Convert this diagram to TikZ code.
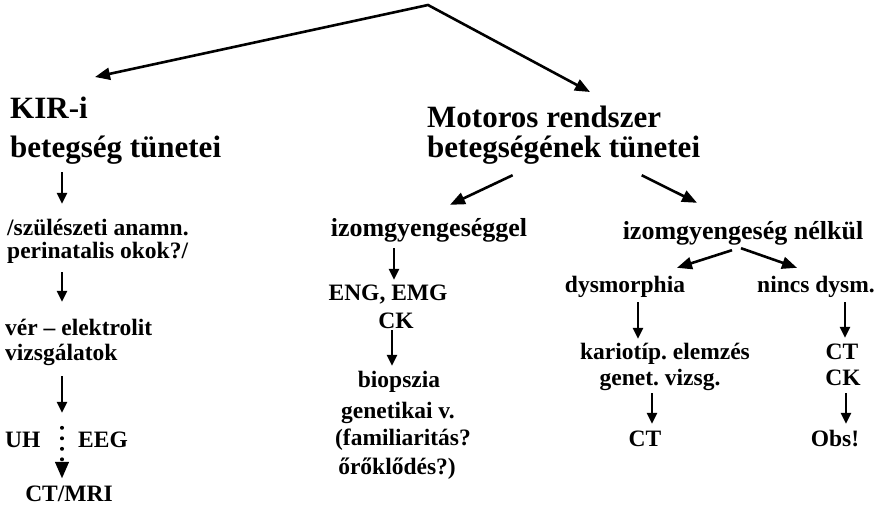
\documentclass[tikz,border=0pt]{standalone}
\usepackage{fontspec}
\setmainfont{Liberation Serif}
\usetikzlibrary{arrows.meta}
\frenchspacing

\tikzset{
  big/.style={font=\fontsize{31}{37}\selectfont\bfseries, inner sep=0pt,
    text height=22pt, text depth=7pt},
  mid/.style={font=\fontsize{26}{31}\selectfont\bfseries, inner sep=0pt,
    text height=19pt, text depth=6pt},
  small/.style={font=\fontsize{23.5}{28}\selectfont\bfseries, inner sep=0pt,
    text height=17pt, text depth=5pt},
  longarr/.style={line width=2.6pt, line join=miter},
  downarr/.style={line width=2.4pt, -{Triangle[length=11pt,width=10pt]}},
  dotarr/.style={line width=4pt, line cap=round, dash pattern=on 0pt off 10.5pt,
    -{Triangle[length=17pt,width=13pt]}},
}

\begin{document}
\begin{tikzpicture}[x=1pt, y=-1pt]
  \useasboundingbox (0,0) rectangle (878,512);

  % left branch
  \node[big, anchor=base west] (kir1) at (10,118) {KIR-i};
  \node[big, anchor=base west] (kir2) at (10,157) {betegség tünetei};
  \node[small, anchor=base west] (szul1) at (7,235) {/szülészeti anamn.};
  \node[small, anchor=base west] (szul2) at (7,258) {perinatalis okok?/};
  \node[small, anchor=base west] (ver1) at (5,335) {vér -- elektrolit};
  \node[small, anchor=base west] (ver2) at (5,360) {vizsgálatok};
  \node[small, anchor=base west] (uh) at (5,447) {UH};
  \node[small, anchor=base west] (eeg) at (78,447) {EEG};
  \node[small, anchor=base] (ctmri) at (69,501) {CT/MRI};
  \coordinate (lx) at (62,0);

  % right branch
  \node[big, anchor=base west] (mot1) at (427,127) {Motoros rendszer};
  \node[big, anchor=base west] (mot2) at (427,157) {betegségének tünetei};
  \node[mid, anchor=base] (izg) at (429,236) {izomgyengeséggel};
  \node[small, anchor=base] (eng) at (388,300) {ENG, EMG};
  \node[small, anchor=base] (ck1) at (396,328) {CK};
  \node[small, anchor=base] (bio) at (399,387) {biopszia};
  \node[small, anchor=base] (gen) at (398,418) {genetikai v.};
  \node[small, anchor=base] (fam) at (403,445) {(familiaritás?};
  \node[small, anchor=base] (oro) at (397,474) {őrőklődés?)};

  \node[mid, anchor=base] (nel) at (743,239) {izomgyengeség nélkül};
  \node[small, anchor=base] (dys) at (625,292) {dysmorphia};
  \node[small, anchor=base] (nincs) at (816,292) {nincs dysm.};
  \node[small, anchor=base] (kar) at (665,359) {kariotíp. elemzés};
  \node[small, anchor=base] (genet) at (660,385) {genet. vizsg.};
  \node[small, anchor=base] (ct1) at (842,359) {CT};
  \node[small, anchor=base] (ck2) at (843,385) {CK};
  \node[small, anchor=base] (ct2) at (645,446) {CT};
  \node[small, anchor=base] (obs) at (835,446) {Obs!};

  \coordinate (apex) at (428,5);

  % top split
  \draw[longarr, {Triangle[length=15pt,width=12pt]}-{Triangle[length=15pt,width=12pt]}]
    ([shift={(85,-41)}]kir1.base west) -- (apex) -- ([shift={(163,-35)}]mot1.base west);

  % left column
  \draw[downarr, shorten <=8pt, shorten >=14pt] (kir2.south -| lx) -- (szul1.north -| lx);
  \draw[downarr, shorten <=9pt, shorten >=16pt] (szul2.south -| lx) -- (ver1.north -| lx);
  \draw[downarr, shorten <=11pt, shorten >=17pt] (ver2.south -| lx) -- (uh.north -| lx);
  \draw[dotarr, shorten <=-2pt, shorten >=5pt] (uh.north -| lx) -- (ctmri.north -| lx);

  % middle column
  \draw[longarr, -{Triangle[length=15pt,width=12pt]}]
    ([shift={(-51,11)}]mot2.south) -- ([shift={(21,-12)}]izg.north);
  \draw[downarr] ([shift={(-35,6)}]izg.south) -- ([shift={(6,-3)}]eng.north);
  \draw[downarr] ([shift={(-4,-3)}]ck1.south) -- ([shift={(-7,-4)}]bio.north);

  % right column
  \draw[longarr, -{Triangle[length=15pt,width=12pt]}]
    ([shift={(78,11)}]mot2.south) -- ([shift={(-46,-17)}]nel.north);
  \draw[longarr, -{Triangle[length=15pt,width=12pt]}]
    ([shift={(-11,5)}]nel.south) -- ([shift={(52,-7)}]dys.north);
  \draw[longarr, -{Triangle[length=15pt,width=12pt]}]
    ([shift={(-2,3)}]nel.south) -- ([shift={(-19,-7)}]nincs.north);
  \draw[downarr] ([shift={(13,5)}]dys.south) -- ([shift={(-27,-3)}]kar.north);
  \draw[downarr] ([shift={(29,5)}]nincs.south) -- ([shift={(3,-4)}]ct1.north);
  \draw[downarr] ([shift={(-8,3)}]genet.south) -- ([shift={(7,-5)}]ct2.north);
  \draw[downarr] ([shift={(3,3)}]ck2.south) -- ([shift={(11,-5)}]obs.north);
\end{tikzpicture}
\end{document}
